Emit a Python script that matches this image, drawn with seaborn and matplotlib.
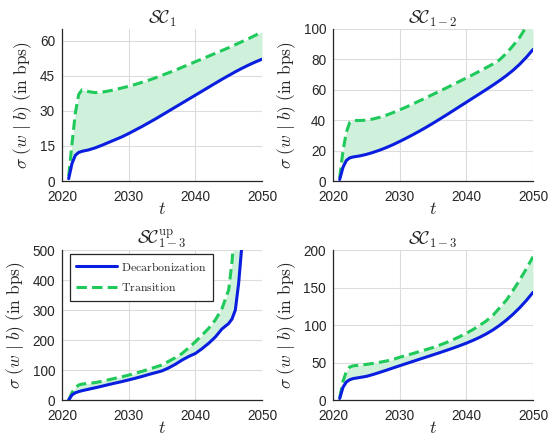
import numpy as np
import pandas as pd
import seaborn as sns
import matplotlib
matplotlib.use("Agg")
import matplotlib.pyplot as plt

# Time grid (denser over the first two years where the curves rise quickly)
years = [2021, 2021.5, 2022, 2022.5, 2023] + list(range(2024, 2051))

# SC_1
sc1_decarb = [1, 7.5, 11, 12.2, 12.7, 13.3, 14.2, 15.3, 16.5, 17.7, 18.9, 20.3, 21.8,
              23.3, 24.9, 26.5, 28.2, 29.9, 31.6, 33.3, 35.0, 36.7, 38.4, 40.1, 41.8,
              43.5, 45.1, 46.7, 48.2, 49.6, 50.9, 52.1]
sc1_trans = [2, 16, 29, 37, 39, 38.2, 37.8, 38.0, 38.5, 39.1, 39.8, 40.5, 41.3, 42.2,
             43.1, 44.1, 45.2, 46.3, 47.4, 48.6, 49.8, 51.0, 52.2, 53.4, 54.6, 55.8,
             57.0, 58.3, 59.6, 60.9, 62.3, 63.8]

# SC_{1-2}
sc12_decarb = [1, 9, 13.5, 15.2, 15.8, 16.5, 17.5, 18.8, 20.3, 22.0, 23.9, 26.0, 28.2,
               30.5, 32.9, 35.4, 38.0, 40.7, 43.4, 46.2, 49.0, 51.8, 54.6, 57.4, 60.2,
               63.1, 66.1, 69.3, 72.8, 76.8, 81.4, 86.5]
sc12_trans = [2, 20, 32, 38.5, 39.8, 39.8, 40.0, 40.8, 41.9, 43.3, 45.0, 46.8, 48.7,
              50.7, 52.8, 54.9, 57.0, 59.1, 61.2, 63.4, 65.6, 67.8, 70.0, 72.3, 74.6,
              77.0, 79.8, 84.0, 89.0, 94.5, 101.5, 109.0]

# SC_{1-3}^{up} (diverges before 2050)
years_up = [2021, 2021.5, 2022, 2022.5, 2023] + list(range(2024, 2046)) + [2045.5, 2046, 2046.5, 2047]
sc13up_decarb = [0, 17, 24, 28, 31, 36, 41, 46, 51.5, 56.5, 61.5, 67, 72.5, 78.5, 85,
                 91, 97, 107, 119, 133, 145, 155, 171, 189, 210, 237, 255, 270, 300,
                 390, 520]
sc13up_trans = [0, 25, 40, 50, 53, 55.5, 58, 62.5, 67.5, 72.5, 77.5, 83, 89, 95.5,
                102.5, 109.5, 117, 129, 141, 155, 174, 194, 216, 239, 267, 305, 367,
                460, 600, 750, 900]

# SC_{1-3}
sc13_decarb = [2, 17, 24, 27, 28.5, 30, 31.5, 34, 36.8, 39.7, 42.7, 45.7, 48.6, 51.5,
               54.4, 57.3, 60.2, 63.1, 66.1, 69.2, 72.4, 75.8, 79.5, 83.6, 88.2, 93.5,
               99.6, 106.5, 114.3, 123, 132.7, 143.5]
sc13_trans = [3, 25, 38, 44, 45.5, 46.5, 47.5, 48.8, 50.3, 52.0, 54.0, 57.0, 59.5, 62.0,
              64.7, 67.3, 70.0, 73.2, 76.6, 80.4, 84.5, 89.0, 94.0, 99.5, 105.5, 113.0,
              123.0, 133.0, 146.0, 160.0, 175.0, 191.0]

titles = [r"$\mathcal{SC}_1$", r"$\mathcal{SC}_{1-2}$",
          r"$\mathcal{SC}_{1-3}^{\mathrm{up}}$", r"$\mathcal{SC}_{1-3}$"]
series_labels = [r"$\mathrm{Decarbonization}$", r"$\mathrm{Transition}$"]
y_limits = [(0, 65), (0, 100), (0, 500), (0, 200)]
y_ticks = [[0, 15, 30, 45, 60], [0, 20, 40, 60, 80, 100],
           [0, 100, 200, 300, 400, 500], [0, 50, 100, 150, 200]]
x_ticks = [2020, 2030, 2040, 2050]

panels = [
    (years, sc1_decarb, sc1_trans),
    (years, sc12_decarb, sc12_trans),
    (years_up, sc13up_decarb, sc13up_trans),
    (years, sc13_decarb, sc13_trans),
]

sns.set_theme(style="whitegrid")
plt.rcParams["font.family"] = ["Liberation Sans", "DejaVu Sans"]
plt.rcParams["mathtext.fontset"] = "cm"

BLUE = "#0a1ee0"
GREEN = "#1fc95a"
FILL = "#cff1db"
INK = "#262626"

fig = plt.figure(figsize=(5.48, 4.36), dpi=100)
W, H = 548, 436
boxes = [(62, 29, 200, 152), (333, 29, 200, 152), (62, 250, 200, 150), (333, 250, 200, 150)]

for i, ((t, dec, tra), (l, top, w, h)) in enumerate(zip(panels, boxes)):
    ax = fig.add_axes([l / W, 1 - (top + h) / H, w / W, h / H])
    df = pd.DataFrame({"t": t, "dec": dec, "tra": tra})
    ax.fill_between(df["t"], df["dec"], df["tra"], color=FILL, lw=0, zorder=1)
    sns.lineplot(data=df, x="t", y="dec", ax=ax, color=BLUE, lw=2.2,
                 label=series_labels[0], zorder=3)
    sns.lineplot(data=df, x="t", y="tra", ax=ax, color=GREEN, lw=2.2,
                 label=series_labels[1], zorder=2)
    ax.lines[-1].set_dashes((3.4, 1.7))

    ax.set_xlim(2020, 2050)
    ax.set_ylim(*y_limits[i])
    ax.set_xticks(x_ticks)
    ax.set_yticks(y_ticks[i])
    ax.tick_params(axis="both", labelsize=9.8, colors=INK, length=0)
    ax.tick_params(axis="x", pad=6.5)
    ax.tick_params(axis="y", pad=5)
    ax.grid(True, color="#dcdcdc", lw=0.8)
    for side in ("top", "right"):
        ax.spines[side].set_visible(False)
    for side in ("left", "bottom"):
        ax.spines[side].set_color(INK)
        ax.spines[side].set_linewidth(0.9)
    ax.set_title(titles[i], fontsize=13, color=INK, pad=4)
    ax.set_xlabel(r"$t$", fontsize=13, color=INK, labelpad=-2)
    ax.set_ylabel(r"$\sigma\ (w\ |\ b)\ \mathrm{(in\ bps)}$", fontsize=12.5,
                  color=INK, labelpad=4)

    if i == 2:
        leg = ax.legend(loc="upper left", fontsize=8.5, handlelength=3.4,
                        frameon=True, fancybox=False, framealpha=1,
                        borderpad=0.55, labelspacing=0.75, handletextpad=0.4,
                        borderaxespad=0, bbox_to_anchor=(0.04, 0.973))
        leg.get_frame().set_edgecolor(INK)
        leg.get_frame().set_linewidth(0.9)
    else:
        ax.get_legend().remove()

fig.savefig("out.png", dpi=100)
